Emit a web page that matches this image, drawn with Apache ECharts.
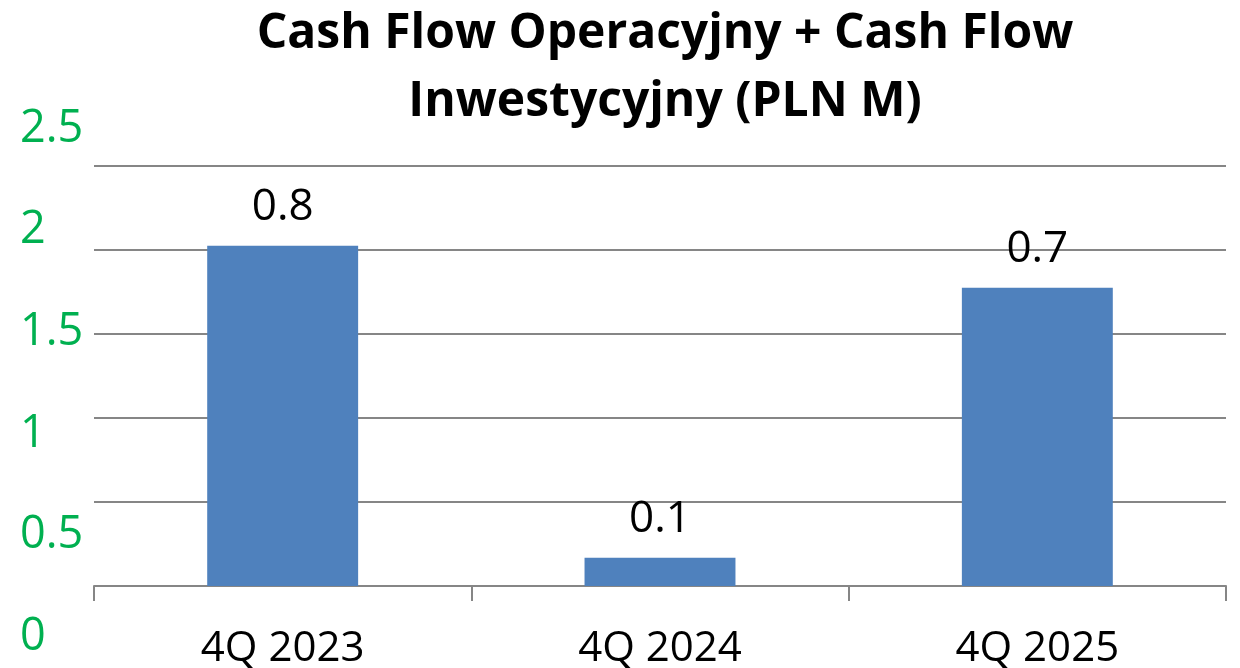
<!DOCTYPE html>
<html><head><meta charset="utf-8">
<script src="https://cdn.jsdelivr.net/npm/echarts@6/dist/echarts.min.js"></script>
<style>html,body{margin:0;padding:0;background:#fff}#c{width:1240px;height:668px}</style>
</head><body><div id="c"></div>
<script>
const categories = ['4Q 2023', '4Q 2024', '4Q 2025'];
const values = [0.81, 0.067, 0.71];
const tickLabels = [0, 0.5, 1, 1.5, 2, 2.5];
const titleLines = ['Cash Flow Operacyjny + Cash Flow', 'Inwestycyjny (PLN M)'];

const chart = echarts.init(document.getElementById('c'));
chart.setOption({
  animation: false,
  title: {
    text: titleLines.join('\n'),
    left: 660, top: -5, textAlign: 'center',
    textStyle: { fontFamily: 'Open Sans', fontWeight: 'bold', fontSize: 48, lineHeight: 68, color: '#000' }
  },
  grid: [
    { left: 94, right: 14, top: 166, bottom: 82, outerBoundsMode: 'none' },
    { left: 90, width: 1, top: 129, bottom: 31, outerBoundsMode: 'none' }
  ],
  xAxis: [
    { type: 'category', gridIndex: 0, data: categories,
      axisLine: { lineStyle: { color: '#868686', width: 2 } },
      axisTick: { show: true, length: 15, lineStyle: { color: '#868686', width: 2 } },
      axisLabel: { color: '#000', fontFamily: 'Open Sans', fontSize: 42, margin: 42 } },
    { type: 'value', gridIndex: 1, show: false }
  ],
  yAxis: [
    { type: 'value', gridIndex: 0, min: 0, max: 1, interval: 0.2,
      axisLabel: { show: false }, axisLine: { show: false }, axisTick: { show: false },
      splitLine: { lineStyle: { color: '#868686', width: 2 } } },
    { type: 'value', gridIndex: 1, min: 0, max: 2.5, interval: 0.5,
      axisLine: { show: false }, axisTick: { show: false }, splitLine: { show: false },
      axisLabel: { align: 'left', margin: 70, color: '#00B050', fontFamily: 'Open Sans', fontSize: 45 },
      data: tickLabels }
  ],
  series: [{
    type: 'bar', xAxisIndex: 0, yAxisIndex: 0,
    data: values, barWidth: '40%',
    itemStyle: { color: '#4F81BD' },
    label: { show: true, position: 'top', distance: 16, color: '#000',
      fontFamily: 'Open Sans', fontSize: 44,
      formatter: p => p.value.toFixed(1) }
  }]
});
</script></body></html>
